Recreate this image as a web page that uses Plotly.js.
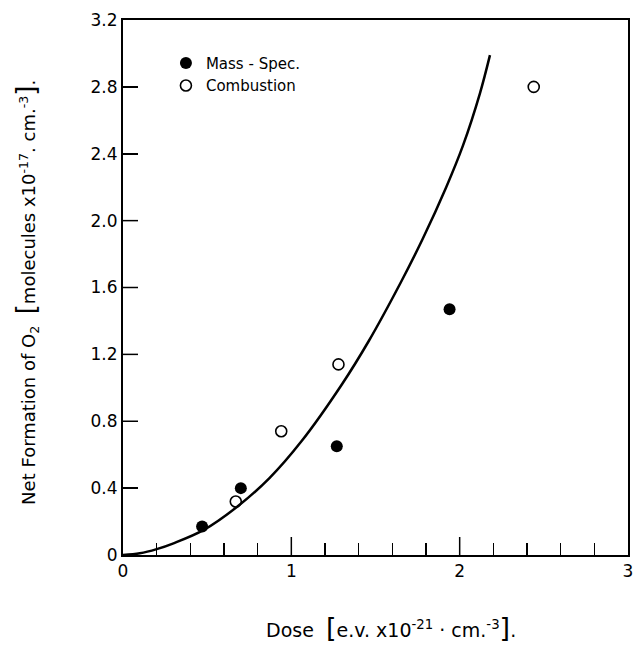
<!DOCTYPE html>
<html>
<head>
<meta charset="utf-8">
<script src="https://cdn.plot.ly/plotly-3.0.1.min.js"></script>
<style>html,body{margin:0;padding:0;background:#fff;}</style>
</head>
<body>
<div id="chart" style="width:637px;height:645px;"></div>
<script>
// Data
const massSpecDose = [0.47, 0.70, 1.27, 1.94];
const massSpecO2   = [0.17, 0.40, 0.65, 1.47];
const combustionDose = [0.67, 0.94, 1.28, 2.44];
const combustionO2   = [0.32, 0.74, 1.14, 2.80];
const curveDose = [0.00, 0.10, 0.20, 0.30, 0.48, 0.68, 0.87, 1.06, 1.30, 1.46, 1.65, 1.78, 1.92, 2.02, 2.12, 2.18];
const curveO2   = [0.00, 0.01, 0.035, 0.07, 0.15, 0.29, 0.46, 0.68, 1.02, 1.28, 1.63, 1.89, 2.20, 2.45, 2.76, 2.99];
const yTickVals = [0, 0.4, 0.8, 1.2, 1.6, 2.0, 2.4, 2.8, 3.2];
const yTickText = ['0', '0.4', '0.8', '1.2', '1.6', '2.0', '2.4', '2.8', '3.2'];
const xTickVals = [0, 1, 2, 3];
const xTickText = ['0', '1', '2', '3'];

const FONT = 'DejaVu Sans, Arial, sans-serif';

const traces = [
  {
    x: curveDose, y: curveO2, type: 'scatter', mode: 'lines',
    line: {color: '#000', width: 2.5, shape: 'spline', smoothing: 1},
    showlegend: false, hoverinfo: 'skip'
  },
  {
    x: massSpecDose, y: massSpecO2, type: 'scatter', mode: 'markers',
    name: 'Mass - Spec.',
    marker: {symbol: 'circle', size: 12, color: '#000', line: {width: 0}}
  },
  {
    x: combustionDose, y: combustionO2, type: 'scatter', mode: 'markers',
    name: 'Combustion',
    marker: {symbol: 'circle-open', size: 11, color: '#000', line: {width: 1.6, color: '#000'}}
  }
];

// Major tick marks pointing into the plot, placed at the tick values
const tickShapes = [];
yTickVals.slice(1, -1).forEach(function (v) {
  tickShapes.push({type: 'line', xref: 'x', yref: 'y', xsizemode: 'pixel', xanchor: 0,
    x0: 0, x1: 15, y0: v, y1: v, line: {color: '#000', width: 1.5}, layer: 'above'});
});
xTickVals.slice(1, -1).forEach(function (v) {
  tickShapes.push({type: 'line', xref: 'x', yref: 'y', ysizemode: 'pixel', yanchor: 0,
    y0: 0, y1: 18, x0: v, x1: v, line: {color: '#000', width: 1.5}, layer: 'above'});
});

const layout = {
  width: 637, height: 645,
  margin: {l: 123, r: 9, t: 20, b: 90},
  showlegend: true,
  legend: {
    x: 0.085, y: 0.95, xanchor: 'left', yanchor: 'top',
    bgcolor: 'rgba(0,0,0,0)', borderwidth: 0,
    font: {family: FONT, size: 15, color: '#000'},
    tracegroupgap: 0, itemwidth: 30
  },
  xaxis: {
    range: [0, 3], showgrid: false, zeroline: false,
    showline: true, linecolor: '#000', linewidth: 2, mirror: true,
    tickmode: 'array', tickvals: xTickVals, ticktext: xTickText,
    ticks: 'inside', ticklen: 17, tickwidth: 1.5, tickcolor: '#000',
    tickfont: {family: FONT, size: 17, color: '#000'},
    minor: {dtick: 0.2, ticks: 'inside', ticklen: 12, tickwidth: 1.5, tickcolor: '#000', showgrid: false}
  },
  yaxis: {
    range: [0, 3.2], showgrid: false, zeroline: false,
    showline: true, linecolor: '#000', linewidth: 2, mirror: true,
    tickmode: 'array', tickvals: yTickVals, ticktext: yTickText,
    ticks: 'inside', ticklen: 15, tickwidth: 1.5, tickcolor: '#000',
    tickfont: {family: FONT, size: 17, color: '#000'}
  },
  shapes: tickShapes,
  annotations: [
    {
      xref: 'paper', yref: 'paper', x: 0.53, y: -0.135, xanchor: 'center', yanchor: 'middle',
      text: 'Dose  <span style="font-size:27px">[</span>e.v. x10<sup>-21</sup> · cm.<sup>-3</sup><span style="font-size:27px">]</span>.',
      showarrow: false, font: {family: FONT, size: 19, color: '#000'}
    },
    {
      xref: 'paper', yref: 'paper', x: -0.19, y: 0.49, xanchor: 'center', yanchor: 'middle',
      textangle: -90,
      text: 'Net Formation of O<sub>2</sub>  <span style="font-size:26px">[</span>molecules x10<sup>-17</sup>. cm.<sup>-3</sup><span style="font-size:26px">]</span>.',
      showarrow: false, font: {family: FONT, size: 18, color: '#000'}
    }
  ]
};

Plotly.newPlot('chart', traces, layout, {displayModeBar: false, staticPlot: true});
</script>
</body>
</html>
